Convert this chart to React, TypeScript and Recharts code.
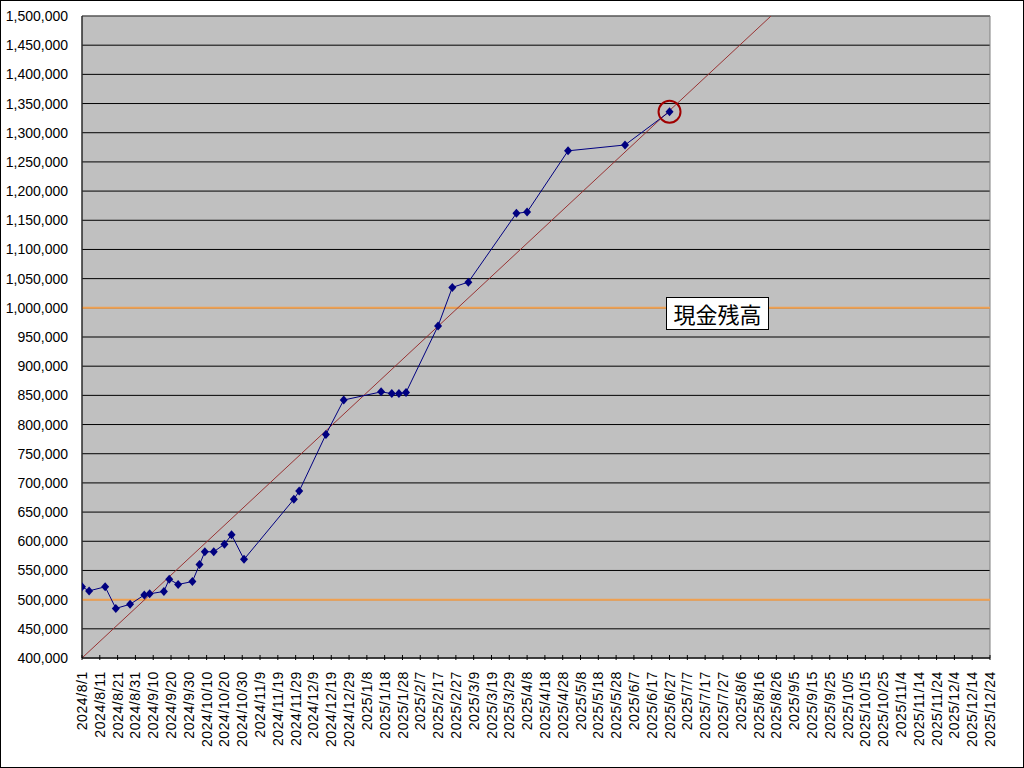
import { LineChart, Line, XAxis, YAxis, CartesianGrid, ReferenceLine, ReferenceDot, ReferenceArea } from 'recharts';

// 現金残高 (cash balance) readings
const balanceDates = [
    '2024/8/1', '2024/8/5', '2024/8/14', '2024/8/20', '2024/8/28', '2024/9/5', '2024/9/8', '2024/9/16',
    '2024/9/19', '2024/9/24', '2024/10/2', '2024/10/6', '2024/10/9', '2024/10/14', '2024/10/20', '2024/10/24',
    '2024/10/31', '2024/11/28', '2024/12/1', '2024/12/16', '2024/12/26', '2025/1/16', '2025/1/22', '2025/1/26',
    '2025/1/30', '2025/2/17', '2025/2/25', '2025/3/6', '2025/4/2', '2025/4/8', '2025/5/1', '2025/6/2', '2025/6/27'
];
const balanceValues = [
    522000, 515000, 522000, 485000, 492000, 508000, 510000, 514000,
    535000, 526000, 531000, 560000, 582000, 582000, 595000, 611000,
    569000, 672000, 686000, 783000, 842000, 856000, 853000, 853000,
    855000, 969000, 1035000, 1044000, 1162000, 1164000, 1269000, 1279000, 1336000
];

// straight target line
const trendDates = ['2024/8/1', '2025/8/23'];
const trendValues = [400000, 1500000];

const guideValues = [500000, 1000000];

const axisStart = '2024/8/1';
const axisEnd = '2025/12/24';
const tickStepDays = 10;
const yTicks = [
    400000, 450000, 500000, 550000, 600000, 650000, 700000, 750000, 800000, 850000, 900000, 950000,
    1000000, 1050000, 1100000, 1150000, 1200000, 1250000, 1300000, 1350000, 1400000, 1450000, 1500000
];

const toDay = (s: string) => {
    const [y, m, d] = s.split('/').map(Number);
    return Date.UTC(y, m - 1, d) / 86400000;
};
const fmtDay = (n: number) => {
    const dt = new Date(n * 86400000);
    return `${dt.getUTCFullYear()}/${dt.getUTCMonth() + 1}/${dt.getUTCDate()}`;
};

const xTicks: number[] = [];
for (let t = toDay(axisStart); t <= toDay(axisEnd); t += tickStepDays) xTicks.push(t);

const balanceData = balanceDates.map((d, i) => ({ t: toDay(d), v: balanceValues[i] }));
const trendData = trendDates.map((d, i) => ({ t: toDay(d), v: trendValues[i] }));
const last = balanceData[balanceData.length - 1];

const FONT = '"Liberation Sans", Arial, sans-serif';

const Diamond = (props: any) => {
    const { cx, cy } = props;
    if (cx == null || cy == null) return null;
    return <polygon points={`${cx},${cy - 4.5} ${cx + 4},${cy} ${cx},${cy + 4.5} ${cx - 4},${cy}`} fill="#000080" />;
};

const DateTick = (props: any) => {
    const { x, y, payload } = props;
    const ty = y + 11;
    return (
        <g>
            <line x1={x} y1={y} x2={x} y2={y - 5} stroke="#000" />
            <text x={x} y={ty} dy="0.36em" textAnchor="end" transform={`rotate(-90, ${x}, ${ty})`}
                fontSize={14} letterSpacing={0.6} fontFamily={FONT} fill="#000">
                {fmtDay(payload.value)}
            </text>
        </g>
    );
};

export default function App() {
    return (
        <div style={{ position: 'relative', width: 1024, height: 768, boxSizing: 'border-box', border: '1px solid #000', background: '#fff' }}>
            <style>{`body{margin:0}`}</style>
            <div style={{ position: 'absolute', left: -1, top: -1 }}>
                <LineChart width={1024} height={768} margin={{ top: 16, right: 34, left: 0, bottom: 0 }}>
                    <CartesianGrid vertical={false} stroke="#000" fill="#C0C0C0" fillOpacity={1} horizontalValues={yTicks} />
                    <ReferenceArea x1={toDay(axisStart)} x2={toDay(axisEnd)} y1={400000} y2={1500000}
                        fill="none" stroke="#808080" strokeWidth={1} />
                    <XAxis type="number" dataKey="t" domain={[toDay(axisStart), toDay(axisEnd)]} ticks={xTicks}
                        allowDataOverflow interval={0} height={110} tickSize={0} tickLine={false}
                        axisLine={{ stroke: '#000' }} tick={<DateTick />} />
                    <YAxis type="number" dataKey="v" domain={[400000, 1500000]} ticks={yTicks} allowDataOverflow
                        interval={0} width={82} tickSize={0} tickMargin={14} tickLine={false}
                        axisLine={{ stroke: '#000' }}
                        tick={{ fontSize: 14, fontFamily: FONT, fill: '#000' }}
                        tickFormatter={(v: number) => v.toLocaleString('en-US')} />
                    {guideValues.map((g) => (
                        <ReferenceLine key={g} y={g} stroke="#F0A050" strokeWidth={2} />
                    ))}
                    <Line data={trendData} dataKey="v" type="linear" stroke="#993333" strokeWidth={1}
                        dot={false} activeDot={false} isAnimationActive={false} />
                    <Line data={balanceData} dataKey="v" type="linear" stroke="#000080" strokeWidth={1}
                        dot={<Diamond />} activeDot={false} isAnimationActive={false} />
                    <ReferenceDot x={last.t} y={last.v} r={11} fill="none" stroke="#A00000" strokeWidth={2} />
                </LineChart>
            </div>
            <div style={{
                position: 'absolute', left: 665, top: 296, width: 103, height: 33, boxSizing: 'border-box',
                border: '1px solid #000', background: '#fff', fontFamily: '"Noto Sans CJK JP", sans-serif',
                fontSize: 22, lineHeight: '31px', textAlign: 'center', color: '#000'
            }}>
                現金残高
            </div>
        </div>
    );
}
